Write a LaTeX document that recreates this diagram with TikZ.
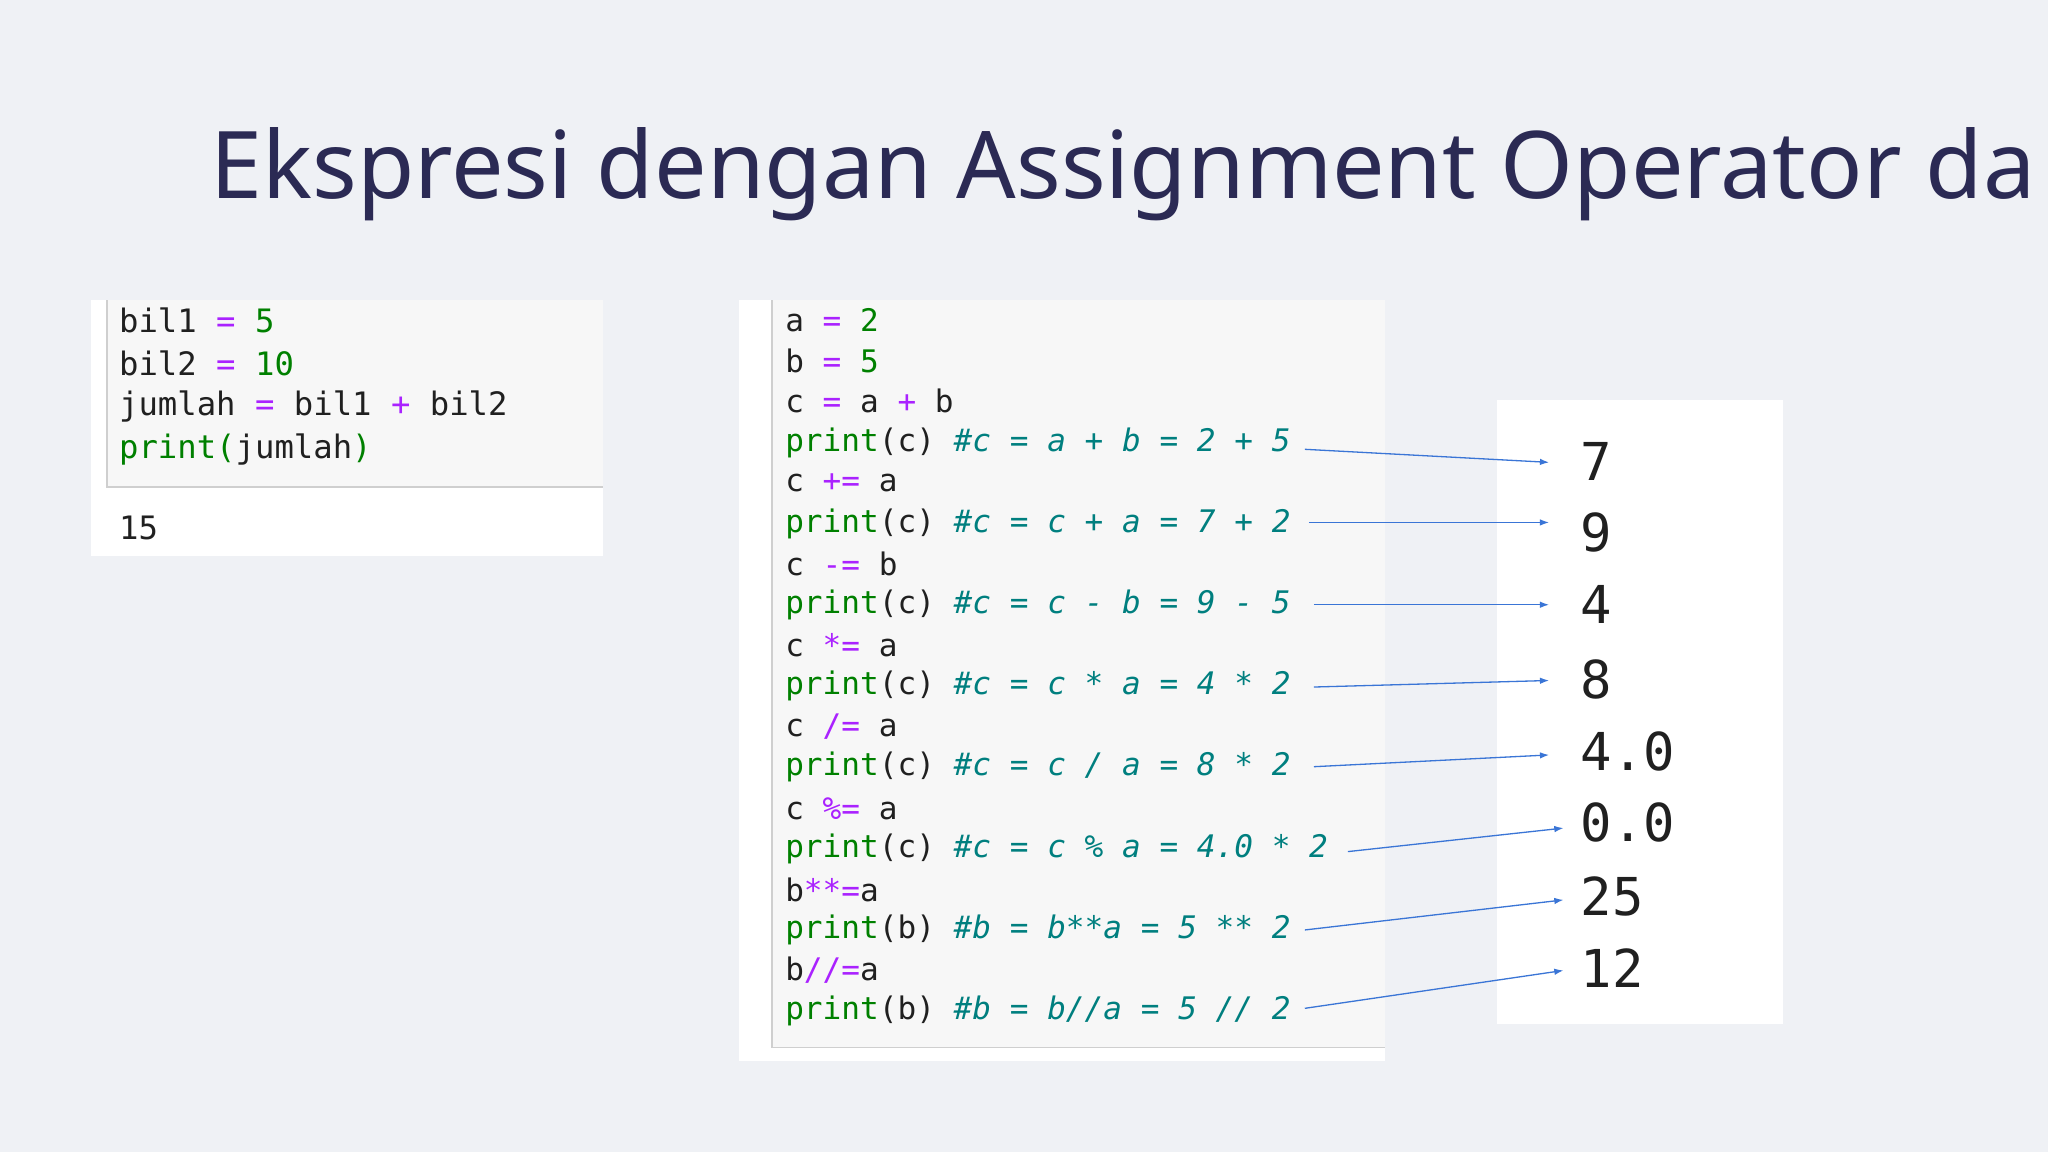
\documentclass[tikz,border=0pt]{standalone}
\usepackage{fontspec}
\usetikzlibrary{arrows.meta}
\setmainfont{Noto Sans}
\setmonofont{DejaVu Sans Mono}
\definecolor{bgc}{HTML}{EFF1F5}
\definecolor{titlec}{HTML}{2B2A54}
\definecolor{cellc}{HTML}{F7F7F7}
\definecolor{bordc}{HTML}{CFCFCF}
\definecolor{kwg}{HTML}{008000}
\definecolor{opp}{HTML}{AA22FF}
\definecolor{cmt}{HTML}{007F7F}
\definecolor{txt}{HTML}{202020}
\definecolor{arr}{HTML}{3A75D6}
\newcommand{\cg}[1]{\textcolor{kwg}{#1}}
\newcommand{\cp}[1]{\textcolor{opp}{#1}}
\newcommand{\ct}[1]{\textcolor{cmt}{\itshape #1}}
\begin{document}
\begin{tikzpicture}[x=1pt,y=-1pt,
  codeL/.style={anchor=west,inner sep=0pt,text=txt,font=\ttfamily\fontsize{24.7}{25}\selectfont},
  codeR/.style={anchor=west,inner sep=0pt,text=txt,font=\ttfamily\fontsize{23.8}{24}\selectfont},
  outn/.style={anchor=west,inner sep=0pt,text=txt,font=\ttfamily\fontsize{40}{40}\selectfont},
  conn/.style={draw=arr,line width=1pt,-{Latex[length=7pt,width=5pt]}}]
\useasboundingbox (0,0) rectangle (1568,882);
\fill[bgc] (0,0) rectangle (1568,882);
\node[anchor=base west,inner sep=0pt,text=titlec,font=\fontsize{71.5}{75}\selectfont] (title) at (161,152) {Ekspresi dengan Assignment Operator da};
% left box
\fill[white] (70,230) rectangle (462,426);
\fill[cellc] (82,230) rectangle (462,373);
\draw[bordc,line width=1.2pt] (82,230) -- (82,373) -- (462,373);
\node[codeL] (l1) at (91,245) {bil1 \cp{=} \cg{5}};
\node[codeL] (l2) at (91,278) {bil2 \cp{=} \cg{10}};
\node[codeL] (l3) at (91,311) {jumlah \cp{=} bil1 \cp{+} bil2};
\node[codeL] (l4) at (91,344) {\cg{print(}jumlah\cg{)}};
\node[codeL] (lo) at (91,404) {15};
% right box
\fill[white] (566,230) rectangle (1060,812);
\fill[cellc] (591,230) rectangle (1060,802);
\draw[bordc,line width=1.2pt] (591,230) -- (591,802) -- (1060,802);
\node[codeR] (r1) at (601,245) {a \cp{=} \cg{2}};
\node[codeR] (r2) at (601,276) {b \cp{=} \cg{5}};
\node[codeR] (r3) at (601,307) {c \cp{=} a \cp{+} b};
\node[codeR] (r4) at (601,339) {\cg{print}(c) \ct{\#c = a + b = 2 + 5}};
\node[codeR] (r5) at (601,370) {c \cp{+=} a};
\node[codeR] (r6) at (601,401) {\cg{print}(c) \ct{\#c = c + a = 7 + 2}};
\node[codeR] (r7) at (601,432) {c \cp{-=} b};
\node[codeR] (r8) at (601,463) {\cg{print}(c) \ct{\#c = c - b = 9 - 5}};
\node[codeR] (r9) at (601,494) {c \cp{*=} a};
\node[codeR] (r10) at (601,525) {\cg{print}(c) \ct{\#c = c * a = 4 * 2}};
\node[codeR] (r11) at (601,556) {c \cp{/=} a};
\node[codeR] (r12) at (601,587) {\cg{print}(c) \ct{\#c = c / a = 8 * 2}};
\node[codeR] (r13) at (601,619) {c \cp{\%=} a};
\node[codeR] (r14) at (601,650) {\cg{print}(c) \ct{\#c = c \% a = 4.0 * 2}};
\node[codeR] (r15) at (601,681) {b\cp{**=}a};
\node[codeR] (r16) at (601,712) {\cg{print}(b) \ct{\#b = b**a = 5 ** 2}};
\node[codeR] (r17) at (601,743) {b\cp{//=}a};
\node[codeR] (r18) at (601,774) {\cg{print}(b) \ct{\#b = b//a = 5 // 2}};
% outputs
\fill[white] (1146,306) rectangle (1365,784);
\node[outn] (o1) at (1210,353) {7};
\node[outn] (o2) at (1210,408) {9};
\node[outn] (o3) at (1210,463) {4};
\node[outn] (o4) at (1210,520) {8};
\node[outn] (o5) at (1210,575) {4.0};
\node[outn] (o6) at (1210,630) {0.0};
\node[outn] (o7) at (1210,686) {25};
\node[outn] (o8) at (1210,741) {12};
% arrow endpoints
\coordinate (s1) at (999,344);  \coordinate (e1) at (1186,354);
\coordinate (s2) at (1002,400); \coordinate (e2) at (1186,400);
\coordinate (s3) at (1006,463); \coordinate (e3) at (1186,463);
\coordinate (s4) at (1006,526); \coordinate (e4) at (1186,521);
\coordinate (s5) at (1006,587); \coordinate (e5) at (1186,578);
\coordinate (s6) at (1032,652); \coordinate (e6) at (1197,634);
\coordinate (s7) at (999,712);  \coordinate (e7) at (1197,689);
\coordinate (s8) at (999,772);  \coordinate (e8) at (1197,743);
\foreach \i in {1,...,8} \draw[conn] (s\i) -- (e\i);
\end{tikzpicture}
\end{document}
